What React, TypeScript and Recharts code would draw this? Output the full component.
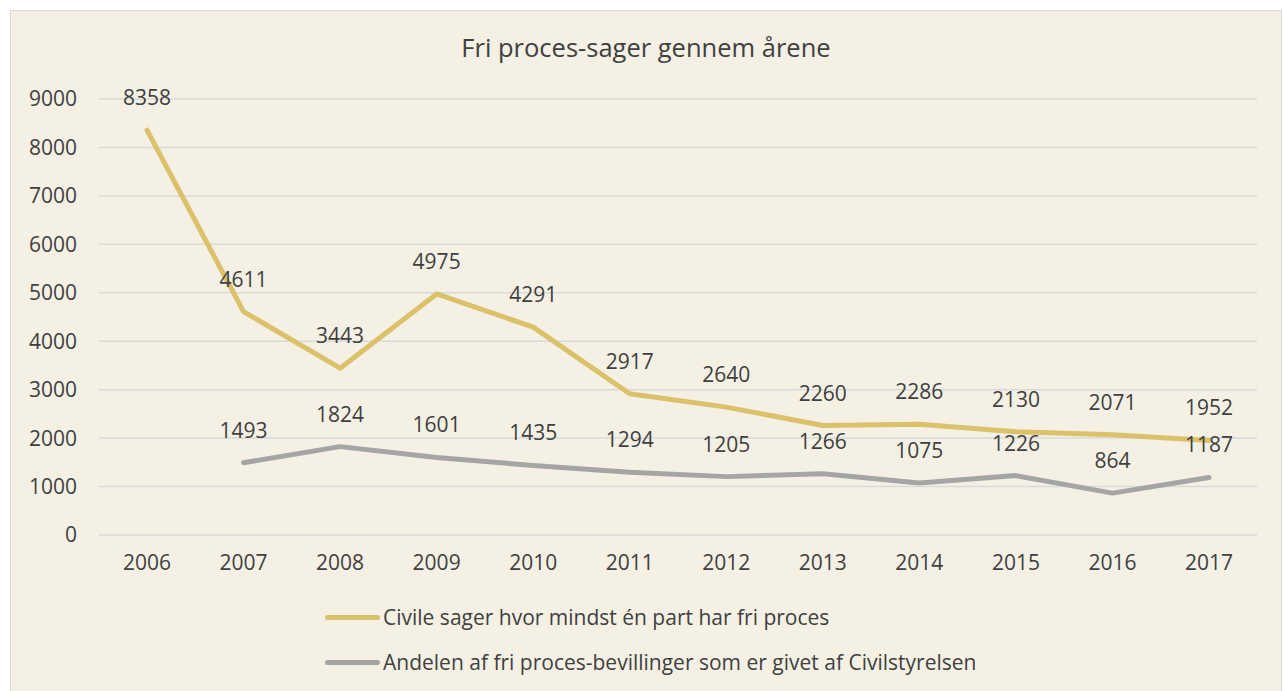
import { LineChart, Line, XAxis, YAxis, CartesianGrid, LabelList } from "recharts"

const years = ["2006", "2007", "2008", "2009", "2010", "2011", "2012", "2013", "2014", "2015", "2016", "2017"]
const civileSager = [8358, 4611, 3443, 4975, 4291, 2917, 2640, 2260, 2286, 2130, 2071, 1952]
const civilstyrelsen = [null, 1493, 1824, 1601, 1435, 1294, 1205, 1266, 1075, 1226, 864, 1187]
const yTicks = [0, 1000, 2000, 3000, 4000, 5000, 6000, 7000, 8000, 9000]

const seriesNames = [
  "Civile sager hvor mindst én part har fri proces",
  "Andelen af fri proces-bevillinger som er givet af Civilstyrelsen",
]

const YELLOW = "#dbc169"
const GREY = "#a5a5a5"
const TEXT = "#404040"
const FONT = "'Open Sans', sans-serif"
const FS = 21

const data = years.map((year, i) => ({
  year,
  civile: civileSager[i],
  styrelsen: civilstyrelsen[i],
}))

const renderLabel = (props: any) => {
  const { x, y, value } = props
  if (value == null) return null
  return (
    <text
      x={x}
      y={y - 33}
      textAnchor="middle"
      dominantBaseline="central"
      fill={TEXT}
      fontSize={FS}
      fontFamily={FONT}
    >
      {value}
    </text>
  )
}

export default function App() {
  const colors = [YELLOW, GREY]
  return (
    <div
      style={{
        position: "absolute",
        left: 10,
        top: 10,
        width: 1270,
        height: 680,
        background: "#f4f1e4",
        border: "1px solid #d9d9d9",
        fontFamily: FONT,
      }}
    >
      <div
        style={{
          position: "absolute",
          left: 0,
          width: "100%",
          top: 19,
          textAlign: "center",
          fontSize: 25.5,
          color: TEXT,
        }}
      >
        Fri proces-sager gennem årene
      </div>
      <LineChart
        width={1270}
        height={680}
        data={data}
        margin={{ top: 88, right: 24, left: 0, bottom: 126 }}
      >
        <CartesianGrid vertical={false} stroke="#d9d9d9" strokeWidth={1.5} />
        <XAxis
          dataKey="year"
          axisLine={false}
          tickLine={false}
          padding={{ left: 48, right: 48 }}
          tickMargin={14}
          height={30}
          tick={{ fill: TEXT, fontSize: FS, fontFamily: FONT }}
        />
        <YAxis
          domain={[0, 9000]}
          ticks={yTicks}
          width={88}
          axisLine={false}
          tickLine={false}
          tick={{ fill: TEXT, fontSize: FS, fontFamily: FONT, dx: -14 }}
        />
        <Line
          dataKey="civile"
          stroke={YELLOW}
          strokeWidth={5}
          strokeLinecap="round"
          strokeLinejoin="round"
          dot={false}
          isAnimationActive={false}
        >
          <LabelList dataKey="civile" content={renderLabel} />
        </Line>
        <Line
          dataKey="styrelsen"
          stroke={GREY}
          strokeWidth={5}
          strokeLinecap="round"
          strokeLinejoin="round"
          dot={false}
          isAnimationActive={false}
        >
          <LabelList dataKey="styrelsen" content={renderLabel} />
        </Line>
      </LineChart>
      {seriesNames.map((name, i) => (
        <div
          key={name}
          style={{
            position: "absolute",
            left: 314,
            top: 592 + i * 45,
            display: "flex",
            alignItems: "center",
            fontSize: FS,
            color: TEXT,
            lineHeight: "28px",
          }}
        >
          <span
            style={{
              display: "inline-block",
              width: 55,
              height: 5,
              borderRadius: 3,
              background: colors[i],
              marginRight: 3,
            }}
          />
          {name}
        </div>
      ))}
    </div>
  )
}
